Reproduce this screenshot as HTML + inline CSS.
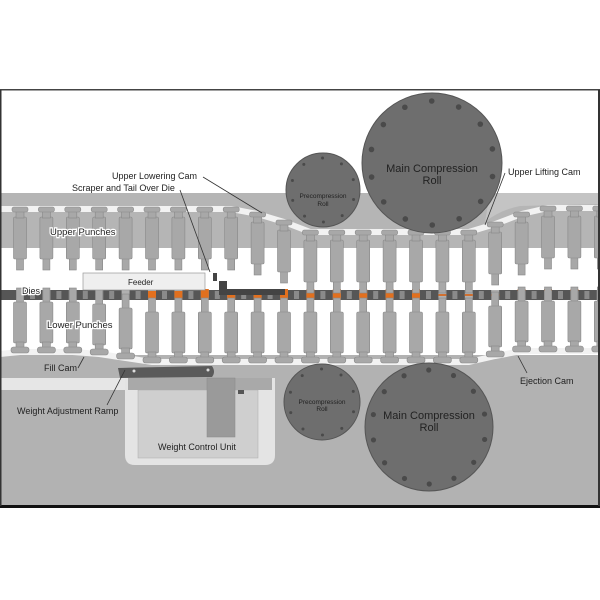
<!DOCTYPE html>
<html><head><meta charset="utf-8"><style>
html,body{margin:0;padding:0;background:#fff;width:600px;height:600px;overflow:hidden}
svg{display:block}
text{font-family:"Liberation Sans",sans-serif;fill:#222}
.h{fill:#fff;stroke:#fff;stroke-width:2.5}
</style></head><body>
<svg id="s" width="600" height="600" viewBox="0 0 600 600">
<rect x="0" y="90" width="600" height="418" fill="#fff"/>
<rect x="0" y="193" width="600" height="55" fill="#b5b5b5"/>
<path d="M490 193 H600 V204 L520 206 Q500 210 485 222 Z" fill="#c4c4c4"/>
<rect x="0" y="355" width="600" height="152" fill="#b2b2b2"/>
<rect x="0" y="378" width="128" height="12" fill="#e6e6e6"/>
<path d="M125 378 H275 V455 Q275 465 265 465 H135 Q125 465 125 455 Z" fill="#e4e4e4"/>
<rect x="138" y="390" width="120" height="68" fill="#cfcfcf" stroke="#aaa" stroke-width="0.5"/>
<rect x="128" y="378" width="144" height="12" fill="#a9a9a9"/>
<rect x="207" y="378" width="28" height="59" fill="#9a9a9a" stroke="#888" stroke-width="0.5"/>
<rect x="238" y="390" width="6" height="4" fill="#555"/>
<g id="g"></g>
<g fill="#6e6e6e" stroke="#555" stroke-width="1">
<circle cx="432" cy="163" r="70"/>
<circle cx="323" cy="190" r="37"/>
<circle cx="322" cy="402" r="38"/>
<circle cx="429" cy="427" r="64"/>
</g>
<g id="bolts" fill="#4a4a4a"></g>
<rect x="83" y="273" width="122" height="17" fill="#efefef" stroke="#999" stroke-width="0.7"/>
<path d="M213 273 h4 v8 h10 v8 h58 v6 h-66 v-14 h-6 Z" fill="#444"/>
<path d="M118 368 L212 366 Q216 372 212 377 L120 378 Z" fill="#5a5a5a"/>
<circle cx="134" cy="371" r="1.5" fill="#ddd"/><circle cx="208" cy="370" r="1.5" fill="#ddd"/>
<g stroke="#333" stroke-width="0.8" fill="none">
<line x1="203" y1="177" x2="262" y2="213"/>
<line x1="180" y1="190" x2="210" y2="272"/>
<line x1="505" y1="173" x2="485" y2="225"/>
<line x1="527" y1="373" x2="518" y2="356"/>
<line x1="78" y1="368" x2="84" y2="357"/>
<line x1="107" y1="405" x2="125" y2="370"/>
</g>
<g font-size="9">
<text x="112" y="179">Upper  Lowering Cam</text>
<text x="72" y="191">Scraper and Tail Over Die</text>
<text x="50" y="235" font-size="9.5" class="h">Upper Punches</text>
<text x="50" y="235" font-size="9.5">Upper Punches</text>
<text x="22" y="294" class="h">Dies</text>
<text x="22" y="294">Dies</text>
<text x="47" y="328" font-size="9.5" class="h">Lower Punches</text>
<text x="47" y="328" font-size="9.5">Lower Punches</text>
<text x="44" y="371">Fill Cam</text>
<text x="17" y="414">Weight Adjustment Ramp</text>
<text x="158" y="450">Weight Control Unit</text>
<text x="128" y="285" font-size="8">Feeder</text>
<text x="508" y="175">Upper  Lifting Cam</text>
<text x="520" y="384">Ejection Cam</text>
<text x="432" y="172" font-size="11" text-anchor="middle">Main Compression</text>
<text x="432" y="184" font-size="11" text-anchor="middle">Roll</text>
<text x="323" y="198" font-size="6.5" text-anchor="middle">Precompression</text>
<text x="323" y="206" font-size="6.5" text-anchor="middle">Roll</text>
<text x="322" y="404" font-size="6.5" text-anchor="middle">Precompression</text>
<text x="322" y="411" font-size="6.5" text-anchor="middle">Roll</text>
<text x="429" y="419" font-size="11" text-anchor="middle">Main Compression</text>
<text x="429" y="431" font-size="11" text-anchor="middle">Roll</text>
</g>
<rect x="0" y="89" width="600" height="1.5" fill="#444"/>
<rect x="0" y="505" width="600" height="3" fill="#111"/>
<rect x="0" y="90" width="1.5" height="416" fill="#333"/>
<rect x="598" y="90" width="2" height="416" fill="#333"/>
</svg>
<script>
var g=document.getElementById('g'),o='';
function up(x){if(x<245)return 207;if(x<270)return 212;if(x<300)return 220;if(x<480)return 230;if(x<510)return 222;if(x<540)return 212;return 206;}
function lo(x){if(x<80)return 350;if(x<110)return 352;if(x<135)return 356;if(x<485)return 360;if(x<510)return 354;return 349;}
var xs=[];for(var i=0;i<23;i++)xs.push(20+i*26.4);
var p='M0 209';xs.forEach(function(x){p+=' L'+x+' '+(up(x)+2);});p+=' L600 206';
o+='<path d="'+p+'" stroke="#f2f2f2" stroke-width="6" fill="none"/>';
p='M0 354';xs.forEach(function(x){p+=' L'+x+' '+(lo(x)+2);});p+=' L600 351';
o+='<path d="'+p+'" stroke="#f2f2f2" stroke-width="6" fill="none"/>';
o+='<rect x="0" y="290" width="600" height="10" fill="#565656"/>';
xs.forEach(function(x,i){o+='<rect x="'+(x-4)+'" y="290" width="8" height="10" fill="#b0b0b0"/>';o+='<rect x="'+(x+10)+'" y="291" width="5" height="8" fill="#8a8a8a"/>';
 if(x>140&&x<430)o+='<rect x="'+(x-4)+'" y="'+(x<200?291:289)+'" width="8" height="'+(x<200?8:11)+'" fill="#e2701e"/>';
 else if(x>430&&x<510)o+='<rect x="'+(x-4)+'" y="294" width="8" height="2" fill="#d07030"/>';
 else if(x>510&&x<590)o+='<rect x="'+(x-4)+'" y="289" width="8" height="2" fill="#c06020"/>';});
var c='fill="#a8a8a8" stroke="#888" stroke-width="0.6"';
xs.forEach(function(x){var h=up(x);
o+='<rect x="'+(x-3.5)+'" y="'+(h+50)+'" width="7" height="13" '+c+'/>';
o+='<rect x="'+(x-6.5)+'" y="'+(h+10)+'" width="13" height="42" rx="1.5" '+c+'/>';
o+='<rect x="'+(x-4)+'" y="'+(h+4)+'" width="8" height="7" '+c+'/>';
o+='<rect x="'+(x-8)+'" y="'+h+'" width="16" height="5" rx="2" '+c+'/>';
var H=lo(x);
o+='<rect x="'+(x-3.5)+'" y="'+(H-62)+'" width="7" height="16" '+c+'/>';
o+='<rect x="'+(x-6.5)+'" y="'+(H-48)+'" width="13" height="41" rx="1.5" '+c+'/>';
o+='<rect x="'+(x-4)+'" y="'+(H-8)+'" width="8" height="6" '+c+'/>';
o+='<rect x="'+(x-9)+'" y="'+(H-3)+'" width="18" height="6" rx="2.5" '+c+'/>';});
g.innerHTML=o;
var b='';
function bolts(cx,cy,r,n,s,rr){for(var i=0;i<n;i++){var a=s+i*2*Math.PI/n;b+='<circle cx="'+(cx+r*Math.cos(a))+'" cy="'+(cy+r*Math.sin(a))+'" r="'+rr+'"/>';}}
bolts(432,163,62,14,0.22,2.8);bolts(323,190,32,10,0.3,1.5);bolts(322,402,33,10,0.3,1.5);bolts(429,427,57,14,0.22,2.6);
document.getElementById('bolts').innerHTML=b;
</script>
</body></html>
